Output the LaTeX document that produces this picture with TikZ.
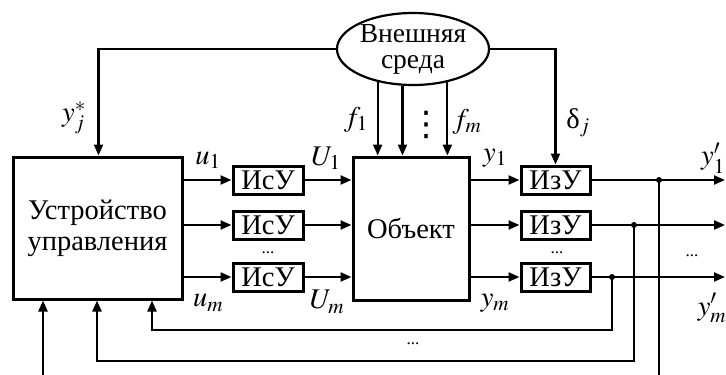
\documentclass[tikz,border=0pt]{standalone}
\usepackage{mathptmx}
\usepackage{fontspec}
\setmainfont{Liberation Serif}
\newfontfamily\dejavu{DejaVu Sans}
\usetikzlibrary{arrows.meta,shapes.geometric,calc}
\begin{document}
\begin{tikzpicture}[x=1pt,y=-1pt,
  font=\fontsize{28.5}{24}\selectfont,
  ln/.style={line width=2.2pt},
  arr/.style={ln,-{Triangle[length=11pt,width=9pt]}},
  blk/.style={draw,line width=3pt,inner sep=0pt},
  sbox/.style={blk,minimum width=70pt,minimum height=28pt},
  lbl/.style={inner sep=0pt},
  jdot/.style={circle,fill,inner sep=0pt,minimum size=6pt},
  dots/.style={inner sep=0pt,font=\fontsize{17}{17}\selectfont}
]
\useasboundingbox (0,0) rectangle (726,375);
% main blocks
\node[blk,minimum width=169pt,minimum height=142pt,align=center] (ctrl) at (97.5,228) {Устройство\\[7pt]управления};
\node[blk,minimum width=116pt,minimum height=143pt] (obj) at (411,228.5) {Объект};
\node[draw,ellipse,line width=2.2pt,minimum width=152pt,minimum height=72pt,inner sep=0pt,align=center,font=\fontsize{27.5}{26}\selectfont] (env) at (413,49) {Внешняя\\среда};
% rows
\foreach \i/\y in {1/180,2/225,3/277}{
  \node[sbox] (isu\i) at (268,\y) {ИсУ};
  \node[sbox,minimum width=69pt] (izu\i) at (555.5,\y) {ИзУ};
  \draw[arr] (ctrl.east |- isu\i.west) -- (isu\i.west);
  \draw[arr] (isu\i.east) -- (isu\i.east -| obj.west);
  \draw[arr] (obj.east |- izu\i.west) -- (izu\i.west);
  \coordinate (out\i) at (725,\y);
  \draw[arr] (izu\i.east) -- (out\i);
}
% junctions and feedback
\node[jdot] (j1) at (659,180) {};
\node[jdot] (j2) at (634,225) {};
\node[jdot] (j3) at (612,277) {};
\coordinate (b1) at (659,375);
\draw[ln] (j1.center) -- (b1);
\coordinate (fb2) at (97,361);
\draw[arr] (j2.center) |- (fb2) -- (fb2 |- ctrl.south);
\coordinate (fb3) at (152,330);
\draw[arr] (j3.center) |- (fb3) -- (fb3 |- ctrl.south);
\coordinate (b0) at (43,375);
\draw[arr] (b0) -- (b0 |- ctrl.south);
% environment connections
\draw[arr] (env.west) -| ([xshift=87pt]ctrl.north west);
\draw[arr] (env.east) -| (izu1.north);
\foreach \a in {223.4,254.4,316.6}{
  \draw[arr] (env.\a) -- (env.\a |- obj.north);
}
% labels
\node[lbl] at (74,118) {$y_j^*$};
\node[lbl] at (208,160) {$u_1$};
\node[lbl] at (326,158) {$U_1$};
\node[lbl] at (356,120) {$f_1$};
\node[lbl] at (467,122) {$f_m$};
\node[lbl] at (578,123) {δ$_j$};
\node[lbl] at (495,158) {$y_1$};
\node[lbl] at (713,158) {$y'_1$};
\node[lbl] at (208,303) {$u_m$};
\node[lbl] at (327,302) {$U_m$};
\node[lbl] at (495,303) {$y_m$};
\node[lbl] at (712,308) {$y'_m$};
\node[dots] at (268,253) {...};
\node[dots] at (557,253) {...};
\node[dots] at (692,256) {...};
\node[dots] at (413,344) {...};
\node[lbl,font=\dejavu\fontsize{34}{34}\selectfont] at (426,125) {⋮};
\end{tikzpicture}
\end{document}
